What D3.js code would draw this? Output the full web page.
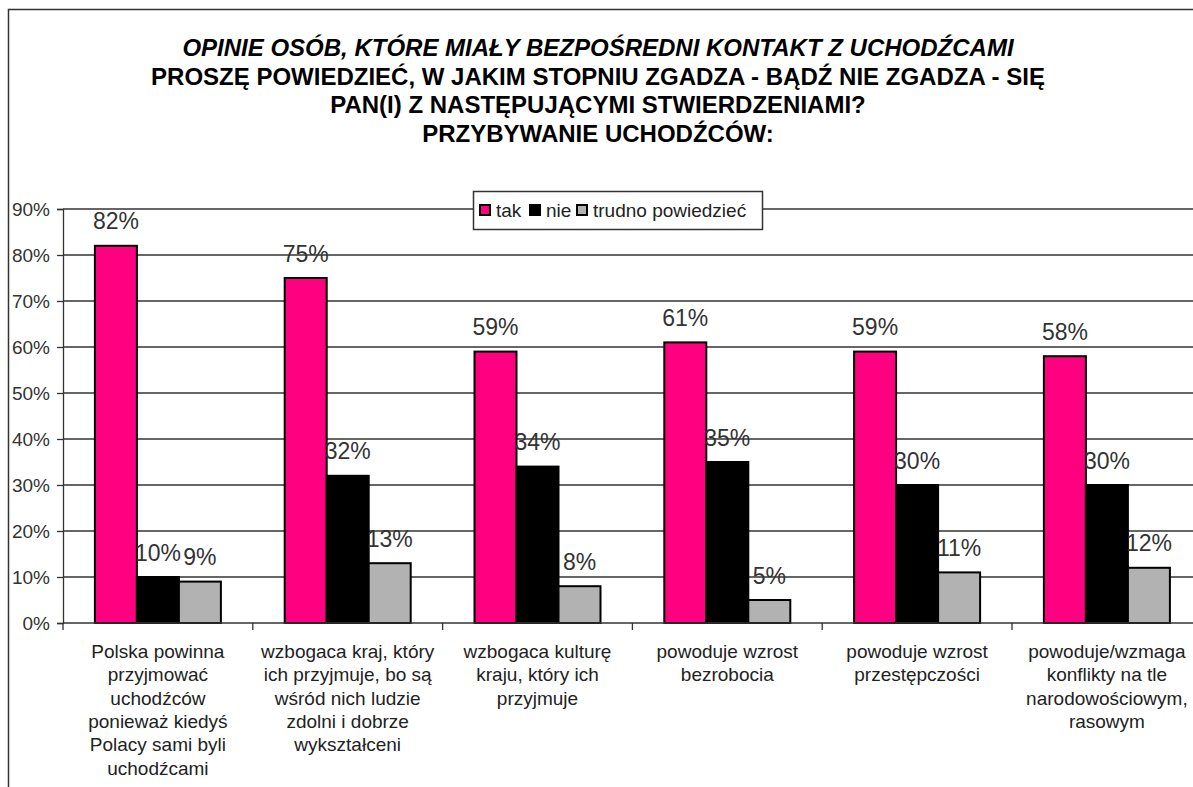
<!DOCTYPE html>
<html><head><meta charset="utf-8">
<script src="https://cdn.jsdelivr.net/npm/d3@7"></script>
<style>html,body{margin:0;padding:0;background:#fff;} svg{display:block;font-family:"Liberation Sans",Arial,sans-serif;}</style>
</head><body>
<script>
const titleLines = [
  "OPINIE OSÓB, KTÓRE MIAŁY BEZPOŚREDNI KONTAKT Z UCHODŹCAMI",
  "PROSZĘ POWIEDZIEĆ, W JAKIM STOPNIU ZGADZA - BĄDŹ NIE ZGADZA - SIĘ",
  "PAN(I) Z NASTĘPUJĄCYMI STWIERDZENIAMI?",
  "PRZYBYWANIE UCHODŹCÓW:"
];
const categories = ["c1","c2","c3","c4","c5","c6"];
const categoryLabels = [
  ["Polska powinna","przyjmować","uchodźców","ponieważ kiedyś","Polacy sami byli","uchodźcami"],
  ["wzbogaca kraj, który","ich przyjmuje, bo są","wśród nich ludzie","zdolni i dobrze","wykształceni"],
  ["wzbogaca kulturę","kraju, który ich","przyjmuje"],
  ["powoduje wzrost","bezrobocia"],
  ["powoduje wzrost","przestępczości"],
  ["powoduje/wzmaga","konflikty na tle","narodowościowym,","rasowym"]
];
const seriesNames = ["tak","nie","trudno powiedzieć"];
const seriesColors = ["#ff0080","#000000","#b2b2b2"];
const tak = [82,75,59,61,59,58];
const nie = [10,32,34,35,30,30];
const trudno = [9,13,8,5,11,12];
const yTicks = [0,10,20,30,40,50,60,70,80,90];

const W = 1193, H = 787;
const svg = d3.select("body").append("svg").attr("width",W).attr("height",H);

// frame
svg.append("path").attr("d",`M8.5,${H} L8.5,9.5 L${W},9.5`).attr("fill","none").attr("stroke","#333").attr("stroke-width",1.5);

// title
const title = svg.append("g").attr("text-anchor","middle").attr("font-weight","bold").attr("font-size",24).attr("fill","#000");
titleLines.forEach((t,i)=>{
  title.append("text").attr("x",598).attr("y",56+i*28.7).attr("font-style", i===0?"italic":"normal").text(t);
});

const x0 = d3.scaleBand().domain(categories).range([63,1201.8]).paddingInner(0).paddingOuter(0);
const barW = 42;
const x1 = d3.scaleBand().domain(seriesNames).range([0,barW*3]);
const groupOff = (x0.bandwidth()-barW*3)/2;
const y = d3.scaleLinear().domain([0,90]).range([623,209]);

// gridlines
svg.append("g").selectAll("line").data(yTicks.filter(d=>d>0)).join("line")
  .attr("x1",63).attr("x2",W).attr("y1",d=>y(d)).attr("y2",d=>y(d))
  .attr("stroke","#333").attr("stroke-width",1.3);

// y axis
const yAxis = d3.axisLeft(y).tickValues(yTicks).tickFormat(d=>d+"%").tickSize(6).tickPadding(7);
const yg = svg.append("g").attr("transform","translate(63,0)").call(yAxis);
yg.select(".domain").attr("stroke","#333").attr("stroke-width",1.3);
yg.selectAll(".tick line").attr("stroke","#333").attr("stroke-width",1.3);
yg.selectAll(".tick text").attr("font-size",19).attr("fill","#333").attr("font-family","Liberation Sans, Arial, sans-serif");

// bars
const series = [tak,nie,trudno];
const data = [];
categories.forEach((c,ci)=>{
  seriesNames.forEach((s,si)=>{
    data.push({c, s, si, v: series[si][ci]});
  });
});
const bars = svg.append("g");
bars.selectAll("rect").data(data).join("rect")
  .attr("x",d=>x0(d.c)+groupOff+x1(d.s))
  .attr("y",d=>y(d.v))
  .attr("width",barW)
  .attr("height",d=>y(0)-y(d.v))
  .attr("fill",d=>seriesColors[d.si])
  .attr("stroke","#000").attr("stroke-width",2);

// x axis
const xg = svg.append("g").attr("transform","translate(0,623)");
xg.append("line").attr("x1",63).attr("x2",W).attr("y1",0).attr("y2",0).attr("stroke","#333").attr("stroke-width",1.5);
xg.selectAll("line.tk").data(categories.concat(["end"])).join("line").attr("class","tk")
  .attr("x1",(d,i)=>63+i*x0.bandwidth()).attr("x2",(d,i)=>63+i*x0.bandwidth())
  .attr("y1",0).attr("y2",7).attr("stroke","#333").attr("stroke-width",1.3);

// category labels
categories.forEach((c,ci)=>{
  const t = svg.append("text").attr("text-anchor","middle").attr("font-size",19).attr("fill","#222");
  categoryLabels[ci].forEach((ln,li)=>{
    t.append("tspan").attr("x",x0(c)+x0.bandwidth()/2).attr("y",658+li*23.3).text(ln);
  });
});

// data labels
svg.append("g").selectAll("text").data(data).join("text")
  .attr("x",d=>x0(d.c)+groupOff+x1(d.s)+barW/2)
  .attr("y",d=>y(d.v)-16.5)
  .attr("text-anchor","middle").attr("font-size",23).attr("fill","#333")
  .text(d=>d.v+"%");

// legend
const lg = svg.append("g");
lg.append("rect").attr("x",473.5).attr("y",191.5).attr("width",289).attr("height",38).attr("fill","#fff").attr("stroke","#333").attr("stroke-width",1.5);
const legX = [480,530,577];
seriesNames.forEach((s,i)=>{
  lg.append("rect").attr("x",legX[i]).attr("y",205).attr("width",10).attr("height",10).attr("fill",seriesColors[i]).attr("stroke","#000").attr("stroke-width",2);
  lg.append("text").attr("x",legX[i]+16).attr("y",217).attr("font-size",19).attr("fill","#222").text(s);
});
</script>
</body></html>
